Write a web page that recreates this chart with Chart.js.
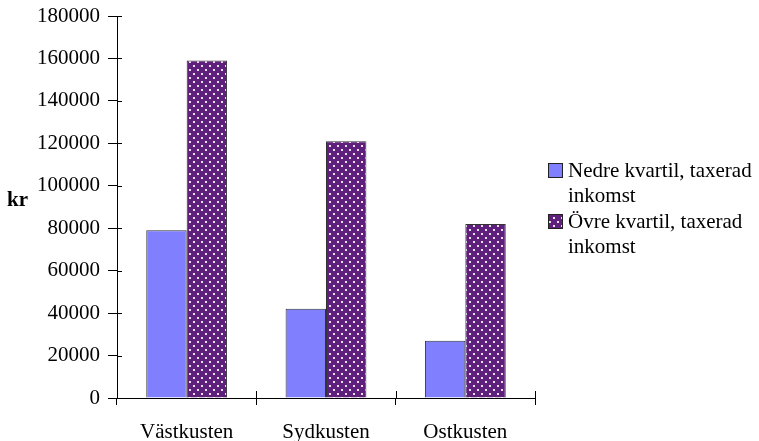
<!DOCTYPE html>
<html lang="sv">
<head>
<meta charset="UTF-8">
<title>Kvartiler, taxerad inkomst</title>
<script src="https://cdn.jsdelivr.net/npm/chart.js"></script>
<style>
  html, body { margin: 0; padding: 0; background: #fff; }
  #wrap { width: 759px; height: 441px; }
  .fontwarm { position: absolute; left: -9999px; font-family: "Liberation Serif", "DejaVu Serif", serif; font-size: 21px; }
</style>
</head>
<body>
<span class="fontwarm">Västkusten 0123456789 <b>kr</b></span>
<div id="wrap"><canvas id="myChart" width="759" height="441"></canvas></div>
<script>
// data
const regions = ['Västkusten', 'Sydkusten', 'Ostkusten'];
const lowerQuartile = [79000, 42000, 27000];
const upperQuartile = [159000, 121000, 82000];
const seriesNames = ['Nedre kvartil, taxerad inkomst', 'Övre kvartil, taxerad inkomst'];
const yTicks = [0, 20000, 40000, 60000, 80000, 100000, 120000, 140000, 160000, 180000];

const FONT = '"Liberation Serif", "DejaVu Serif", serif';

// purple with white dots, like the old spreadsheet fill
function dotPattern() {
    const c = document.createElement('canvas');
    c.width = 8; c.height = 8;
    const g = c.getContext('2d');
    g.fillStyle = 'rgb(94,32,124)';
    g.fillRect(0, 0, 8, 8);
    g.fillStyle = 'rgba(255,255,255,0.85)';
    g.fillRect(1, 1, 2, 2);
    g.fillRect(5, 5, 2, 2);
    return g.createPattern(c, 'repeat');
}

// y title "kr", legend on the right, ticks that cross the axes
const extras = {
    id: 'extras',
    afterDraw(chart) {
        const ctx = chart.ctx;
        const x = chart.scales.x, y = chart.scales.y;
        ctx.save();
        ctx.strokeStyle = '#000';
        ctx.lineWidth = 1;
        ctx.beginPath();
        y.ticks.forEach(t => {
            const py = Math.round(y.getPixelForValue(t.value)) + 0.5;
            ctx.moveTo(x.left, py);
            ctx.lineTo(x.left + 5, py);
        });
        const step = (x.right - x.left) / regions.length;
        for (let i = 0; i <= regions.length; i++) {
            const px = Math.round(x.left + i * step) + 0.5;
            ctx.moveTo(px, y.bottom);
            ctx.lineTo(px, y.bottom - 7);
        }
        ctx.stroke();

        ctx.fillStyle = '#000';
        ctx.font = 'bold 21px ' + FONT;
        ctx.textBaseline = 'middle';
        ctx.textAlign = 'left';
        ctx.fillText('kr', 7, 201);

        // legend
        ctx.font = '21px ' + FONT;
        let lineY = 171;
        chart.data.datasets.forEach(ds => {
            ctx.fillStyle = ds.backgroundColor;
            ctx.fillRect(548, lineY - 8, 15, 15);
            ctx.strokeStyle = '#222';
            ctx.strokeRect(548.5, lineY - 7.5, 14, 14);
            ctx.fillStyle = '#000';
            wrap(ctx, ds.label, 186).forEach(line => {
                ctx.fillText(line, 568, lineY);
                lineY += 25;
            });
            lineY += 1;
        });
        ctx.restore();
    }
};

function wrap(ctx, text, maxW) {
    const words = text.split(' ');
    const lines = [];
    let cur = '';
    words.forEach(w => {
        const test = cur ? cur + ' ' + w : w;
        if (ctx.measureText(test).width > maxW && cur) {
            lines.push(cur);
            cur = w;
        } else {
            cur = test;
        }
    });
    if (cur) lines.push(cur);
    return lines;
}

function draw() {
    const ctx = document.getElementById('myChart').getContext('2d');
    new Chart(ctx, {
        type: 'bar',
        data: {
            labels: regions,
            datasets: [{
                label: seriesNames[0],
                data: lowerQuartile,
                backgroundColor: '#8080ff',
                borderColor: '#333',
                borderWidth: 1,
                categoryPercentage: 0.58,
                barPercentage: 1
            }, {
                label: seriesNames[1],
                data: upperQuartile,
                backgroundColor: dotPattern(),
                borderColor: '#333',
                borderWidth: 1,
                categoryPercentage: 0.58,
                barPercentage: 1
            }]
        },
        options: {
            responsive: false,
            animation: false,
            layout: { padding: { top: 16, right: 224, left: 0, bottom: 0 } },
            plugins: {
                legend: { display: false },
                tooltip: { enabled: false }
            },
            scales: {
                x: {
                    grid: {
                        drawOnChartArea: false,
                        offset: true,
                        tickLength: 7,
                        color: '#000'
                    },
                    border: { color: '#000' },
                    ticks: {
                        color: '#000',
                        font: { family: FONT, size: 21 },
                        padding: 15
                    },
                    afterFit(scale) { scale.height = 43; }
                },
                y: {
                    min: 0,
                    max: 180000,
                    afterBuildTicks(scale) {
                        scale.ticks = yTicks.map(v => ({ value: v }));
                    },
                    grid: {
                        drawOnChartArea: false,
                        tickLength: 9,
                        color: '#000'
                    },
                    border: { color: '#000' },
                    ticks: {
                        color: '#000',
                        font: { family: FONT, size: 21, lineHeight: 0.6 },
                        padding: 8,
                        callback: v => String(v)
                    },
                    afterFit(scale) { scale.width = 117; }
                }
            }
        },
        plugins: [extras]
    });
}

Promise.all([
    document.fonts.load('21px "Liberation Serif"'),
    document.fonts.load('bold 21px "Liberation Serif"')
]).then(draw, draw);
</script>
</body>
</html>
